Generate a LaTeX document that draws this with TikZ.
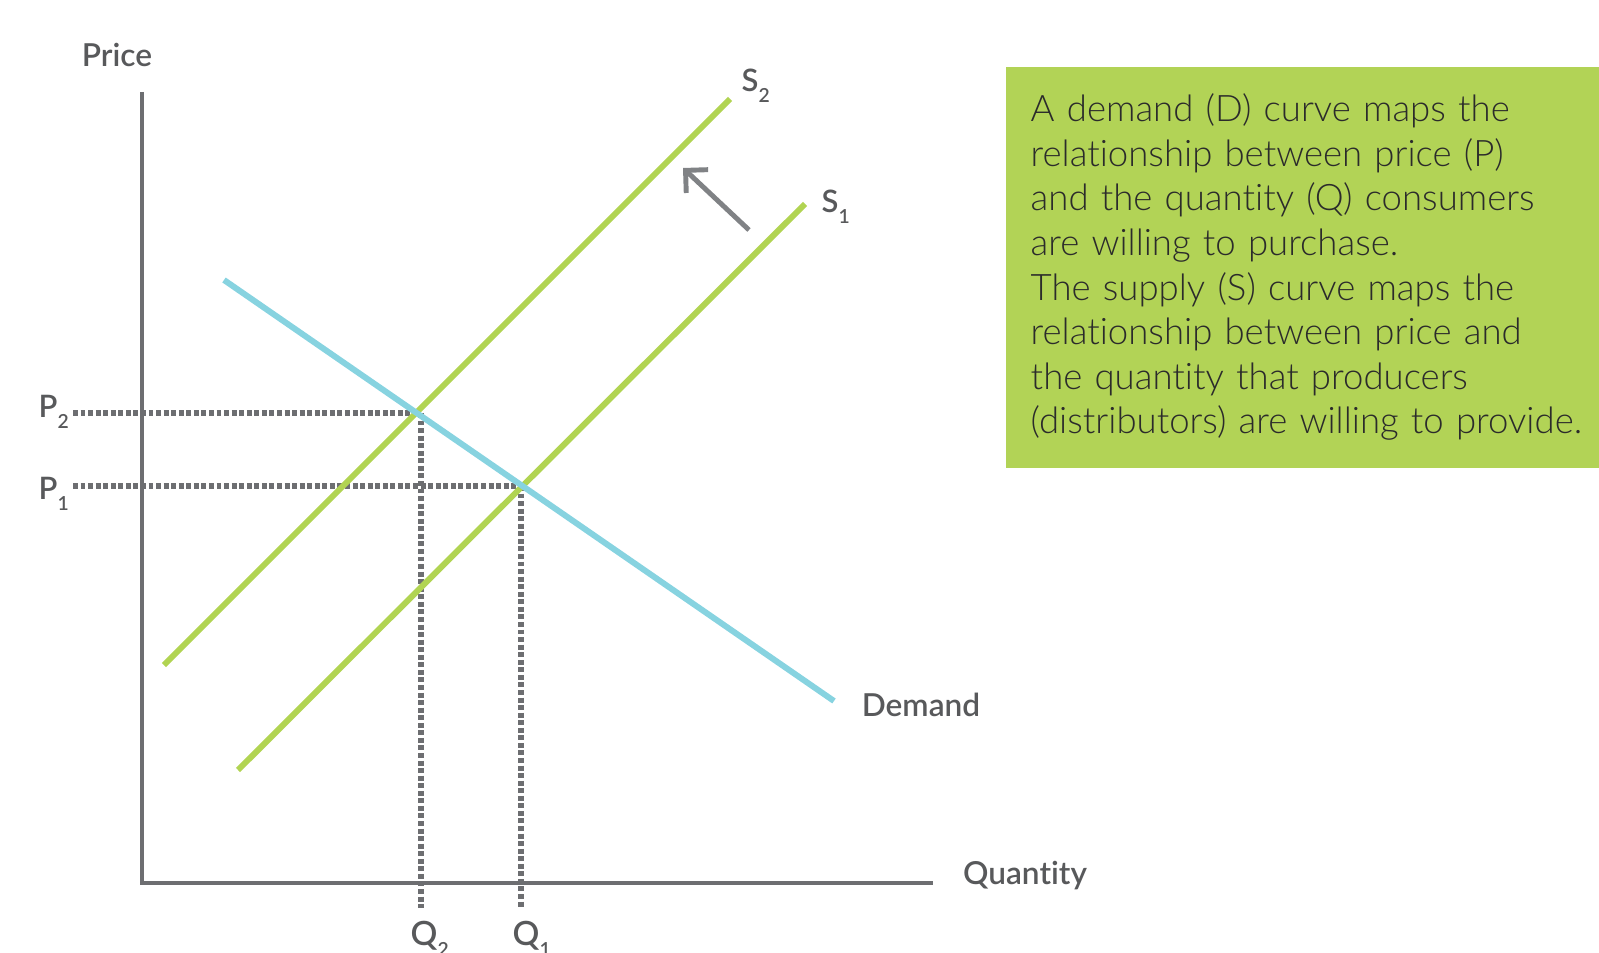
\documentclass[tikz,border=0pt]{standalone}
\usepackage{fontspec}
\defaultfontfeatures{Ligatures=NoCommon}
\setmainfont{Lato}
\newfontfamily\semib{Lato Semibold}
\newfontfamily\lightf{Lato Light}
\usetikzlibrary{arrows.meta}
\definecolor{axisgray}{HTML}{6D6E71}
\definecolor{labelgray}{HTML}{58595B}
\definecolor{arrowgray}{HTML}{808285}
\definecolor{supplygreen}{HTML}{B1D452}
\definecolor{notegreen}{HTML}{B2D356}
\definecolor{demandblue}{HTML}{87D3E0}
\definecolor{notetext}{HTML}{2B2B2B}
\newcommand{\lowsub}[1]{\raisebox{-0.11cm}{\fontsize{5.5}{6}\selectfont #1}}
\tikzset{
  axisln/.style={line width=1.4pt,axisgray},
  supply/.style={line width=1.7pt,supplygreen},
  demandln/.style={line width=1.7pt,demandblue},
  guide/.style={line width=1.9pt,axisgray,dash pattern=on 1.4pt off 0.75pt},
  lbl/.style={font=\semib\fontsize{9}{9}\selectfont,text=labelgray,inner sep=0pt},
  tick/.style={font=\semib\fontsize{8.8}{9}\selectfont,text=labelgray,inner sep=0pt,anchor=base west},
  notebox/.style={fill=notegreen,text=notetext,align=left,inner xsep=0.25cm,
    font=\lightf\fontsize{10.4}{12.7}\selectfont}
}
\begin{document}
\begin{tikzpicture}
\useasboundingbox (0,0) rectangle (15.99,9.52);
% axes
\coordinate (O) at (1.42,0.69);
\coordinate (ytop) at (1.42,8.60);
\coordinate (xend) at (9.33,0.69);
\draw[axisln] (ytop)--(O)--(xend);
\node[lbl] (price) at (1.17,8.97) {Price};
\node[lbl] (qty) at (10.25,0.76) {Quantity};
% curves
\coordinate (s2a) at (1.64,2.87); \coordinate (s2b) at (7.30,8.53);
\coordinate (s1a) at (2.38,1.82); \coordinate (s1b) at (8.05,7.48);
\coordinate (da) at (2.24,6.72);  \coordinate (db) at (8.34,2.51);
\coordinate (E1) at (5.22,4.66);
\coordinate (E2) at (4.19,5.39);
% guides
\coordinate (p2l) at (0.73,5.39); \coordinate (p1l) at (0.73,4.66);
\coordinate (q2t) at (4.21,5.39); \coordinate (q1t) at (5.21,4.66);
\coordinate (q2b) at (4.21,0.44); \coordinate (q1b) at (5.21,0.44);
\draw[guide] (p2l)--(E2);
\draw[guide] (p1l)--(E1);
\draw[guide] (q2t)--(q2b);
\draw[guide] (q1t)--(q1b);
\draw[supply] (s2a)--(s2b);
\draw[supply] (s1a)--(s1b);
\draw[demandln] (da)--(db);
\node[tick] (p2) at (0.38,5.34) {P\lowsub{2}};
\node[tick] (p1) at (0.38,4.53) {P\lowsub{1}};
\node[tick,font=\semib\fontsize{9.5}{10}\selectfont] (q2) at (4.10,0.07) {Q\lowsub{2}};
\node[tick,font=\semib\fontsize{9.5}{10}\selectfont] (q1) at (5.12,0.07) {Q\lowsub{1}};
\node[tick] (s2) at (7.41,8.60) {S\lowsub{2}};
\node[tick] (s1) at (8.21,7.39) {S\lowsub{1}};
\node[lbl] (dem) at (9.21,2.47) {Demand};
% shift arrow
\coordinate (shA) at (7.49,7.22); \coordinate (shB) at (6.83,7.84);
\draw[line width=1.4pt,arrowgray,-{Straight Barb[length=1.6mm,width=3.2mm]}] (shA)--(shB);
% note
\node[notebox,anchor=north west,minimum height=4.01cm,text width=5.75cm] (note) at (10.05,8.86)
  {A demand (D) curve maps the\\ relationship between price (P)\\ and the quantity (Q) consumers\\
   are willing to purchase.\\ The supply (S) curve maps the\\ relationship between price and\\
   the quantity that producers\\ (distributors) are willing to provide.};
\end{tikzpicture}
\end{document}
